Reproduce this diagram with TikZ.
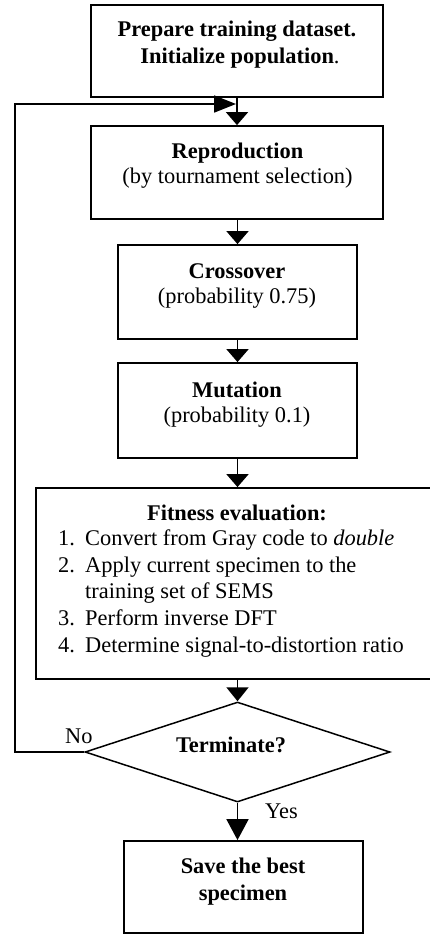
\documentclass[tikz,border=0pt]{standalone}
\usepackage{fontspec}
\setmainfont{Liberation Serif}
\usetikzlibrary{arrows.meta,shapes.geometric}
\begin{document}
\begin{tikzpicture}[x=1pt,y=-1pt,
  box/.style={draw,line width=1.8pt,rectangle,inner sep=0pt},
  txt/.style={inner sep=0pt,anchor=base,font=\fontsize{22.4}{26}\selectfont},
  btxt/.style={inner sep=0pt,anchor=base,font=\fontsize{22.4}{26}\selectfont\bfseries},
  ltxt/.style={txt,anchor=base west},
  conn/.style={line width=1.8pt},
  arr/.style={conn,-{Triangle[length=13pt,width=22pt]}},
]
\fill[white] (0,0) rectangle (429,935);
\useasboundingbox (0,0) rectangle (429,935);

% boxes
\node[box,minimum width=292pt,minimum height=92pt] (b1) at (237,51) {};
\node[box,minimum width=292pt,minimum height=93pt] (b2) at (237,172.5) {};
\node[box,minimum width=239pt,minimum height=94pt] (b3) at (237.5,292) {};
\node[box,minimum width=239pt,minimum height=95pt] (b4) at (237.5,410.5) {};
\node[box,minimum width=396pt,minimum height=191pt] (b5) at (234,583.5) {};
\node[draw,diamond,line width=1.5pt,minimum width=305pt,minimum height=100pt,inner sep=0pt] (d) at (237.5,752) {};
\node[box,minimum width=239pt,minimum height=92pt] (b6) at (243.5,887) {};

% texts
\node[btxt] (t1a) at (237,36) {Prepare training dataset.};
\node[btxt] (t1b) at (240,63) {Initialize population\textmd{.}};
\node[btxt] (t2a) at (237.5,158) {Reproduction};
\node[txt] (t2b) at (237.5,183) {(by tournament selection)};
\node[btxt] (t3a) at (237,278) {Crossover};
\node[txt] (t3b) at (237,303) {(probability 0.75)};
\node[btxt] (t4a) at (237,397) {Mutation};
\node[txt] (t4b) at (237,422) {(probability 0.1)};
\node[btxt] (t5a) at (237,520) {Fitness evaluation:};
\node[ltxt] (n1) at (58,545) {1.};
\node[ltxt] (l1) at (85,545) {Convert from Gray code to \textit{double}};
\node[ltxt] (n2) at (58,572) {2.};
\node[ltxt] (l2) at (85,572) {Apply current specimen to the};
\node[ltxt] (l2b) at (85,598) {training set of SEMS};
\node[ltxt] (n3) at (58,625) {3.};
\node[ltxt] (l3) at (85,625) {Perform inverse DFT};
\node[ltxt] (n4) at (58,652) {4.};
\node[ltxt] (l4) at (85,652) {Determine signal-to-distortion ratio};
\node[btxt] (td) at (231,752) {Terminate?};
\node[txt,anchor=base west] (no) at (65,743) {No};
\node[txt,anchor=base west] (yes) at (265,818) {Yes};
\node[btxt] (t6a) at (243,873) {Save the best};
\node[btxt] (t6b) at (243,900) {specimen};

% connectors
\draw[arr] (b1.south) -- (b2.north);
\draw[arr] (b3.north |- b2.south) -- (b3.north);
\draw[arr] (b3.south) -- (b4.north);
\draw[arr] (b4.south) -- (b4.south |- b5.north);
\draw[conn,-{Triangle[length=14pt,width=22pt]}] (d.north |- b5.south) -- (d.north);
\draw[conn,-{Triangle[length=21pt,width=22pt]}] (d.south) -- (d.south |- b6.north);
\coordinate (corner) at (15,104);
\coordinate (m) at (236,104);
\draw[conn,-{Triangle[length=22pt,width=17pt]}] (d.west) -| (corner) -- (m);
\end{tikzpicture}
\end{document}
